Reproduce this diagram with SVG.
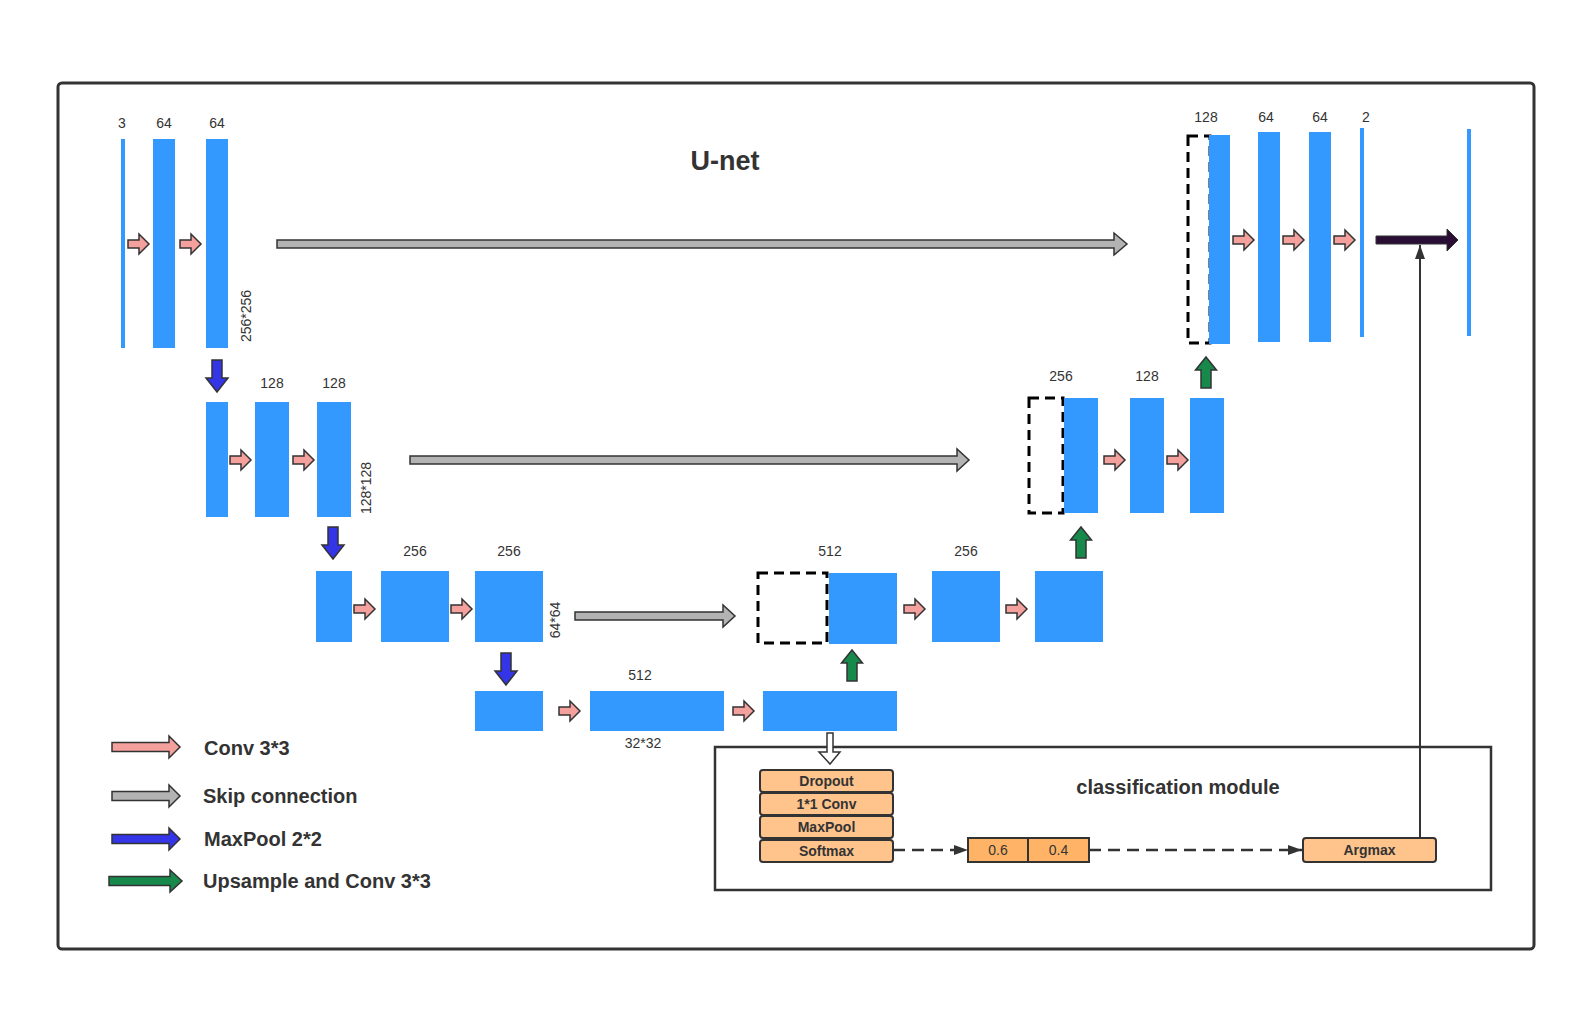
<svg xmlns="http://www.w3.org/2000/svg" xmlns:xlink="http://www.w3.org/1999/xlink" width="1595" height="1011" viewBox="0 0 1595 1011">
<style>
  .bar{fill:#3399FF}
  .dash{fill:none;stroke:#000;stroke-width:3;stroke-dasharray:10 6}
  .num{font-family:"Liberation Sans",Arial,sans-serif;font-size:14px;fill:#333;text-anchor:middle}
  .conv{fill:#F4A09C;stroke:#333;stroke-width:1.5}
  .skip{fill:#B3B3B3;stroke:#333;stroke-width:1.5}
  .pool{fill:#3535E8;stroke:#333;stroke-width:1.5}
  .up{fill:#16894B;stroke:#333;stroke-width:1.5}
  .leg{font-family:"Liberation Sans",Arial,sans-serif;font-size:20px;font-weight:bold;fill:#333}
  .box{fill:#FFC48C;stroke:#333;stroke-width:2}
  .prob{fill:#FFB366;stroke:#333;stroke-width:2}
  .bt{font-family:"Liberation Sans",Arial,sans-serif;font-size:14px;font-weight:bold;fill:#333;text-anchor:middle}
  .pt{font-family:"Liberation Sans",Arial,sans-serif;font-size:14px;fill:#333;text-anchor:middle}
  .dl{fill:none;stroke:#333;stroke-width:2.5;stroke-dasharray:12 7}
</style>
<defs>
  <path id="pa" class="conv" d="M0,-4 H11 V-10 L21,0 L11,10 V4 H0 Z"/>
  <path id="da" class="pool" d="M-5,0 H5 V18 H11 L0,32 L-11,18 H-5 Z"/>
  <path id="ua" class="up" d="M-5,31 V13 H-10.5 L0,0 L10.5,13 H5 V31 Z"/>
  <marker id="tri" viewBox="0 0 14 10" refX="14" refY="5" markerWidth="14" markerHeight="10" markerUnits="userSpaceOnUse" orient="auto">
    <path d="M0,0 L14,5 L0,10 Z" fill="#333"/>
  </marker>
  <marker id="tri2" viewBox="0 0 14 10" refX="14" refY="5" markerWidth="14" markerHeight="10" markerUnits="userSpaceOnUse" orient="auto">
    <path d="M0,0 L14,5 L0,10 Z" fill="#333"/>
  </marker>
</defs>
<rect width="1595" height="1011" fill="#fff"/>
<rect x="58" y="83" width="1476" height="866" rx="4" fill="none" stroke="#333" stroke-width="3"/>
<text x="725" y="170" font-family="Liberation Sans,Arial,sans-serif" font-size="27" font-weight="bold" fill="#333" text-anchor="middle">U-net</text>

<!-- Encoder level 1 -->
<g id="enc1-input"><rect class="bar" x="121" y="139" width="4" height="209"/><text class="num" x="122" y="128">3</text></g>
<g id="enc1-conv1"><rect class="bar" x="153" y="139" width="22" height="209"/><text class="num" x="164" y="128">64</text></g>
<g id="enc1-conv2"><rect class="bar" x="206" y="139" width="22" height="209"/><text class="num" x="217" y="128">64</text>
<text class="num" transform="translate(246,316) rotate(-90)" dominant-baseline="central">256*256</text></g>

<!-- Encoder level 2 -->
<g id="enc2-pool"><rect class="bar" x="206" y="402" width="22" height="115"/></g>
<g id="enc2-conv1"><rect class="bar" x="255" y="402" width="34" height="115"/><text class="num" x="272" y="388">128</text></g>
<g id="enc2-conv2"><rect class="bar" x="317" y="402" width="34" height="115"/><text class="num" x="334" y="388">128</text>
<text class="num" transform="translate(366,488) rotate(-90)" dominant-baseline="central">128*128</text></g>

<!-- Encoder level 3 -->
<g id="enc3-pool"><rect class="bar" x="316" y="571" width="36" height="71"/></g>
<g id="enc3-conv1"><rect class="bar" x="381" y="571" width="68" height="71"/><text class="num" x="415" y="556">256</text></g>
<g id="enc3-conv2"><rect class="bar" x="475" y="571" width="68" height="71"/><text class="num" x="509" y="556">256</text>
<text class="num" transform="translate(555,620) rotate(-90)" dominant-baseline="central">64*64</text></g>

<!-- Bottleneck -->
<g id="bot-pool"><rect class="bar" x="475" y="691" width="68" height="40"/></g>
<g id="bot-conv1"><rect class="bar" x="590" y="691" width="134" height="40"/><text class="num" x="640" y="680">512</text><text class="num" x="643" y="748">32*32</text></g>
<g id="bot-conv2"><rect class="bar" x="763" y="691" width="134" height="40"/></g>

<!-- Decoder level 3 -->
<g id="dec3-concat"><rect class="dash" x="758" y="573" width="69" height="70"/><rect class="bar" x="829" y="573" width="68" height="71"/><text class="num" x="830" y="556">512</text></g>
<g id="dec3-conv1"><rect class="bar" x="932" y="571" width="68" height="71"/><text class="num" x="966" y="556">256</text></g>
<g id="dec3-conv2"><rect class="bar" x="1035" y="571" width="68" height="71"/></g>

<!-- Decoder level 2 -->
<g id="dec2-concat"><rect class="dash" x="1029" y="398" width="34" height="115"/><rect class="bar" x="1064" y="398" width="34" height="115"/><text class="num" x="1061" y="381">256</text></g>
<g id="dec2-conv1"><rect class="bar" x="1130" y="398" width="34" height="115"/><text class="num" x="1147" y="381">128</text></g>
<g id="dec2-conv2"><rect class="bar" x="1190" y="398" width="34" height="115"/></g>

<!-- Decoder level 1 -->
<g id="dec1-concat"><rect class="dash" x="1188" y="136" width="22" height="207"/><rect class="bar" x="1209" y="135" width="21" height="209"/><text class="num" x="1206" y="122">128</text></g>
<g id="dec1-conv1"><rect class="bar" x="1258" y="132" width="22" height="210"/><text class="num" x="1266" y="122">64</text></g>
<g id="dec1-conv2"><rect class="bar" x="1309" y="132" width="22" height="210"/><text class="num" x="1320" y="122">64</text></g>
<g id="dec1-out"><rect class="bar" x="1360" y="128" width="4" height="209"/><text class="num" x="1366" y="122">2</text></g>
<g id="final-out"><rect class="bar" x="1467" y="129" width="4" height="207"/></g>

<!-- Classification module -->
<g id="classification-module">
  <rect x="715" y="747" width="776" height="143" fill="none" stroke="#333" stroke-width="2.5"/>
  <text x="1178" y="794" font-family="Liberation Sans,Arial,sans-serif" font-size="20" font-weight="bold" fill="#333" text-anchor="middle">classification module</text>
</g>
<g id="cls-dropout"><rect class="box" x="760" y="770" width="133" height="22" rx="3"/><text class="bt" x="826.5" y="786">Dropout</text></g>
<g id="cls-conv"><rect class="box" x="760" y="793" width="133" height="22" rx="3"/><text class="bt" x="826.5" y="809">1*1 Conv</text></g>
<g id="cls-maxpool"><rect class="box" x="760" y="816" width="133" height="22" rx="3"/><text class="bt" x="826.5" y="832">MaxPool</text></g>
<g id="cls-softmax"><rect class="box" x="760" y="840" width="133" height="22" rx="3"/><text class="bt" x="826.5" y="856">Softmax</text></g>
<g id="cls-prob"><rect class="prob" x="968" y="838" width="60" height="24"/><rect class="prob" x="1028" y="838" width="61" height="24"/><text class="pt" x="998" y="855">0.6</text><text class="pt" x="1058.5" y="855">0.4</text></g>
<g id="cls-argmax"><rect class="box" x="1303" y="838" width="133" height="24" rx="3"/><text class="bt" x="1369.5" y="855">Argmax</text></g>

<!-- Connectors -->
<g id="connectors">
  <use href="#pa" x="128" y="244"/><use href="#pa" x="180" y="244"/>
  <use href="#pa" x="230" y="460"/><use href="#pa" x="293" y="460"/>
  <use href="#pa" x="354" y="609"/><use href="#pa" x="451" y="609"/>
  <use href="#pa" x="559" y="711"/><use href="#pa" x="733" y="711"/>
  <use href="#pa" x="904" y="609"/><use href="#pa" x="1006" y="609"/>
  <use href="#pa" x="1104" y="460"/><use href="#pa" x="1167" y="460"/>
  <use href="#pa" x="1233" y="240"/><use href="#pa" x="1283" y="240"/><use href="#pa" x="1334" y="240"/>
  <use href="#da" x="217" y="360"/><use href="#da" x="333" y="527"/><use href="#da" x="506" y="653"/>
  <use href="#ua" x="852" y="650"/><use href="#ua" x="1081" y="527"/><use href="#ua" x="1206" y="357"/>
  <path class="skip" d="M277,240 H1114 V233 L1127,244 L1114,255 V248 H277 Z"/>
  <path class="skip" d="M410,456 H957 V449 L969,460 L957,471 V464 H410 Z"/>
  <path class="skip" d="M575,612 H723 V605 L735,616 L723,627 V620 H575 Z"/>
  <path d="M1376,236 H1447 V229 L1458,240 L1447,251 V244 H1376 Z" fill="#2B0E35" stroke="#333" stroke-width="1"/>
  <path d="M827,733 H833 V752 H840 L830,764 L819,752 H827 Z" fill="#fff" stroke="#333" stroke-width="1.5"/>
  <path class="dl" d="M893,850 H968" marker-end="url(#tri)"/>
  <path class="dl" d="M1089,850 H1302" marker-end="url(#tri)"/>
  <path d="M1420,838 V245" fill="none" stroke="#333" stroke-width="2" marker-end="url(#tri2)"/>
</g>

<!-- Legend -->
<g id="legend">
  <path class="conv" d="M112,742.5 H169 V736 L180,747 L169,758 V751.5 H112 Z"/>
  <text class="leg" x="204" y="755">Conv 3*3</text>
  <path class="skip" d="M112,791.5 H169 V785 L180,796 L169,807 V800.5 H112 Z"/>
  <text class="leg" x="203" y="803">Skip connection</text>
  <path class="pool" d="M112,834.5 H169 V828 L180,839 L169,850 V843.5 H112 Z"/>
  <text class="leg" x="204" y="846">MaxPool 2*2</text>
  <path class="up" d="M109,876.5 H170 V870 L182,881 L170,892 V885.5 H109 Z"/>
  <text class="leg" x="203" y="888">Upsample and Conv 3*3</text>
</g>
</svg>
